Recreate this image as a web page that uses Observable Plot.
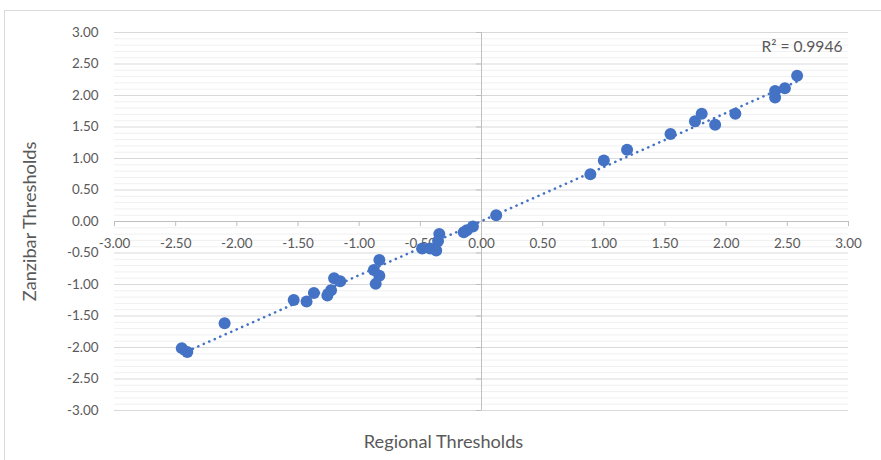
<!DOCTYPE html>
<html>
<head>
<meta charset="utf-8">
<script src="https://cdn.jsdelivr.net/npm/d3@7"></script>
<script src="https://cdn.jsdelivr.net/npm/@observablehq/plot@0.6"></script>
<style>
  html, body { margin: 0; padding: 0; background: #fff; overflow: hidden; }
  #wrap { position: relative; width: 881px; height: 460px; }
  #border { position: absolute; left: 4px; top: 10px; width: 900px; height: 480px; border: 1px solid #d9d9d9; box-sizing: border-box; pointer-events: none; }
</style>
</head>
<body>
<div id="wrap"><div id="border"></div><div id="chart"></div></div>
<script>
// Regional thresholds (x) and Zanzibar thresholds (y)
const regional = [0.12, 0.89, 1.00, 1.19, 1.545, 1.745, 1.80, 1.91, 2.075, 2.40, 2.40, 2.48, 2.58,
  -0.07, -0.12, -0.145, -0.345, -0.355, -0.485, -0.42, -0.37,
  -0.835, -0.88, -0.835, -0.865, -1.205, -1.155, -1.23, -1.26, -1.37, -1.43, -1.535,
  -2.10, -2.45, -2.405];
const zanzibar = [0.10, 0.75, 0.97, 1.14, 1.39, 1.59, 1.71, 1.535, 1.71, 2.07, 1.97, 2.115, 2.315,
  -0.08, -0.14, -0.17, -0.20, -0.31, -0.43, -0.43, -0.46,
  -0.61, -0.77, -0.86, -0.99, -0.90, -0.95, -1.09, -1.175, -1.135, -1.27, -1.245,
  -1.615, -2.01, -2.07];
const xTicks = [-3, -2.5, -2, -1.5, -1, -0.5, 0, 0.5, 1, 1.5, 2, 2.5, 3];
const yTicks = [-3, -2.5, -2, -1.5, -1, -0.5, 0, 0.5, 1, 1.5, 2, 2.5, 3];
const yMinor = d3.range(-30, 31).map(d => d / 10).filter(d => Math.abs(Math.round(d * 2) - d * 2) > 1e-6);
const r2Label = "R² = 0.9946";
const xTitle = "Regional Thresholds";
const yTitle = "Zanzibar Thresholds";

const data = regional.map((x, i) => ({x, y: zanzibar[i]}));
const fmt = d => d.toFixed(2);
const font = "Lato, 'Open Sans', sans-serif";
const textColor = "#595959";
const blue = "#4472c4";

// choose font sizes so text widths match the reference's
const ctx = document.createElement("canvas").getContext("2d");
function fit(text, target) {
  ctx.font = `100px ${font}`;
  return 100 * target / ctx.measureText(text).width;
}
const tickSize = fit("-2.50", 31.5);
const titleSize = fit(xTitle, 160);
const r2Size = fit(r2Label, 81);

const chart = Plot.plot({
  width: 881,
  height: 460,
  marginLeft: 114,
  marginRight: 33,
  marginTop: 32,
  marginBottom: 50,
  x: {domain: [-3, 3], axis: null},
  y: {domain: [-3, 3], axis: null},
  style: {fontFamily: font, background: "transparent"},
  marks: [
    Plot.ruleY(yMinor, {y: d => d, stroke: "#f0f0f0", strokeWidth: 1}),
    Plot.ruleY(yTicks, {y: d => d, stroke: "#d9d9d9", strokeWidth: 1}),
    // axes crossing at zero
    Plot.ruleY([0], {y: d => d, stroke: "#bfbfbf", strokeWidth: 1}),
    Plot.ruleX([0], {x: d => d, stroke: "#bfbfbf", strokeWidth: 1}),
    Plot.ruleX(xTicks, {x: d => d, y1: 0, y2: 0, insetBottom: -5, stroke: "#bfbfbf"}),
    Plot.ruleY(yTicks, {y: d => d, x1: 0, x2: 0, insetLeft: -5, stroke: "#bfbfbf"}),
    // tick labels
    Plot.text(xTicks, {x: d => d, y: 0, text: fmt, dy: 22, fill: textColor, fontSize: tickSize, fontFamily: font}),
    Plot.text(yTicks, {x: -3, y: d => d, text: fmt, dx: -16, textAnchor: "end", fill: textColor, fontSize: tickSize, fontFamily: font}),
    // data
    Plot.dot(data, {x: "x", y: "y", r: 6, fill: blue, stroke: "none"}),
    Plot.linearRegressionY(data, {x: "x", y: "y", ci: 0, stroke: blue, strokeWidth: 2.6, strokeDasharray: "0.1,5.9", strokeLinecap: "round"}),
    // annotations
    Plot.text([r2Label], {text: d => d, frameAnchor: "top-right", textAnchor: "end", lineAnchor: "middle", dx: -6, dy: 14, fill: textColor, fontSize: r2Size, fontFamily: font}),
    Plot.text([yTitle], {text: d => d, frameAnchor: "left", textAnchor: "middle", lineAnchor: "middle", rotate: -90, dx: -84, fill: textColor, fontSize: titleSize, fontFamily: font}),
    Plot.text([xTitle], {text: d => d, frameAnchor: "bottom", textAnchor: "middle", lineAnchor: "middle", dx: -38, dy: 32, fill: textColor, fontSize: titleSize, fontFamily: font})
  ]
});
document.getElementById("chart").appendChild(chart);
</script>
</body>
</html>
